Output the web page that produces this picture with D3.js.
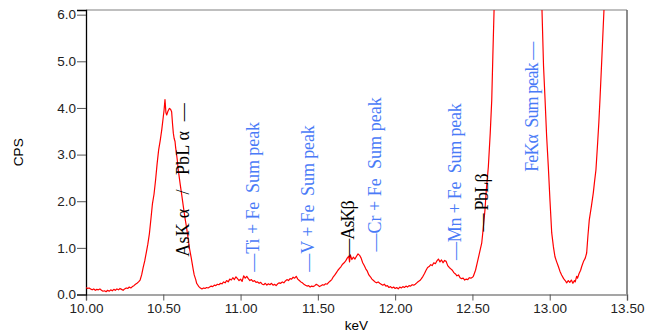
<!DOCTYPE html>
<html>
<head>
<meta charset="utf-8">
<script src="https://cdn.jsdelivr.net/npm/d3@7"></script>
<style>
  html, body { margin: 0; padding: 0; background: #fff; }
  svg { display: block; }
  .tick text { font-family: "Liberation Sans", Arial, sans-serif; font-size: 13.5px; fill: #222; }
  .peak { font-family: "Liberation Serif", "DejaVu Serif", serif; font-size: 18px; white-space: pre; }
</style>
</head>
<body>
<svg id="chart" width="649" height="332"></svg>
<script>
// spectrum, keV vs CPS
var energy = [
  10.00,10.01,10.02,10.03,10.04,10.05,10.06,10.07,10.08,10.09,
  10.10,10.11,10.12,10.13,10.14,10.15,10.16,10.17,10.18,10.19,
  10.20,10.21,10.22,10.23,10.24,10.25,10.26,10.27,10.28,10.29,
  10.30,10.31,10.32,10.33,10.34,10.35,10.36,10.37,10.38,10.39,
  10.40,10.41,10.42,10.43,10.44,10.45,10.46,10.47,10.48,10.49,
  10.50,10.505,10.511,10.517,10.522,10.53,10.539,10.547,10.554,10.56,
  10.565,10.57,10.576,10.58,10.59,10.597,10.61,10.62,10.63,10.64,
  10.65,10.662,10.67,10.68,10.694,10.70,10.71,10.716,10.72,10.73,
  10.74,10.75,10.76,10.77,10.78,10.79,10.80,10.81,10.82,10.83,
  10.84,10.85,10.86,10.87,10.88,10.89,10.90,10.91,10.92,10.93,
  10.94,10.95,10.96,10.97,10.98,10.99,11.00,11.01,11.02,11.03,
  11.04,11.05,11.06,11.07,11.08,11.09,11.10,11.11,11.12,11.13,
  11.14,11.15,11.16,11.17,11.18,11.19,11.20,11.21,11.22,11.23,
  11.24,11.25,11.26,11.27,11.28,11.29,11.30,11.31,11.32,11.33,
  11.34,11.35,11.36,11.37,11.38,11.39,11.40,11.41,11.42,11.43,
  11.44,11.45,11.46,11.47,11.48,11.49,11.50,11.51,11.52,11.53,
  11.54,11.55,11.56,11.57,11.58,11.59,11.60,11.61,11.62,11.63,
  11.64,11.65,11.66,11.67,11.68,11.69,11.70,11.705,11.71,11.72,
  11.73,11.74,11.75,11.76,11.77,11.78,11.79,11.80,11.81,11.82,
  11.83,11.84,11.85,11.86,11.87,11.88,11.89,11.90,11.91,11.92,
  11.93,11.94,11.95,11.96,11.97,11.98,11.99,12.00,12.01,12.02,
  12.03,12.04,12.05,12.06,12.07,12.08,12.09,12.10,12.11,12.12,
  12.13,12.14,12.15,12.16,12.17,12.18,12.19,12.20,12.21,12.22,
  12.23,12.24,12.25,12.26,12.27,12.28,12.29,12.30,12.31,12.32,
  12.33,12.34,12.35,12.36,12.37,12.38,12.39,12.40,12.41,12.42,
  12.43,12.44,12.45,12.46,12.47,12.48,12.49,12.50,12.506,12.52,
  12.531,12.545,12.56,12.57,12.581,12.59,12.603,12.615,12.625,12.632,
  12.640,12.648,12.66,12.70,12.80,12.90,12.94,12.950,12.960,12.970,
  12.980,12.991,13.002,13.013,13.024,13.034,13.045,13.056,13.066,13.077,
  13.09,13.10,13.11,13.12,13.13,13.14,13.15,13.16,13.165,13.174,
  13.18,13.19,13.20,13.207,13.22,13.23,13.239,13.247,13.256,13.27,
  13.282,13.29,13.299,13.310,13.318,13.325,13.335,13.343,13.351,13.36,
  13.40,13.50
];
var cps = [
  0.15,0.13,0.14,0.12,0.10,0.12,0.09,0.11,0.10,0.12,
  0.09,0.07,0.08,0.06,0.09,0.07,0.10,0.08,0.11,0.09,
  0.12,0.10,0.13,0.11,0.09,0.12,0.14,0.13,0.16,0.14,
  0.17,0.19,0.22,0.24,0.27,0.31,0.42,0.58,0.72,0.90,
  1.08,1.30,1.62,1.95,2.15,2.45,2.80,3.10,3.30,3.53,
  3.81,3.95,4.18,3.90,3.85,3.93,3.99,3.97,3.92,3.65,
  3.46,3.35,3.28,3.15,2.90,2.67,2.35,2.12,1.88,1.65,
  1.45,1.17,0.98,0.80,0.53,0.42,0.32,0.24,0.22,0.17,
  0.14,0.12,0.14,0.13,0.15,0.14,0.16,0.18,0.17,0.20,
  0.19,0.22,0.21,0.24,0.23,0.27,0.25,0.30,0.27,0.33,
  0.31,0.36,0.32,0.38,0.34,0.30,0.33,0.28,0.40,0.35,
  0.39,0.34,0.30,0.32,0.28,0.30,0.26,0.27,0.24,0.26,
  0.22,0.21,0.24,0.20,0.23,0.21,0.24,0.20,0.22,0.19,
  0.23,0.25,0.24,0.27,0.25,0.29,0.32,0.30,0.34,0.33,
  0.37,0.35,0.39,0.33,0.30,0.27,0.25,0.22,0.20,0.18,
  0.19,0.16,0.18,0.17,0.19,0.22,0.20,0.17,0.19,0.21,
  0.20,0.23,0.22,0.26,0.29,0.32,0.38,0.42,0.47,0.52,
  0.56,0.60,0.65,0.68,0.72,0.78,0.82,0.70,0.85,0.75,
  0.80,0.76,0.82,0.87,0.84,0.78,0.68,0.62,0.55,0.50,
  0.42,0.38,0.33,0.30,0.27,0.25,0.27,0.24,0.22,0.20,
  0.22,0.18,0.19,0.15,0.17,0.14,0.16,0.13,0.15,0.12,
  0.16,0.14,0.17,0.15,0.18,0.16,0.19,0.18,0.21,0.20,
  0.22,0.25,0.28,0.30,0.34,0.39,0.45,0.52,0.58,0.60,
  0.64,0.62,0.68,0.66,0.72,0.76,0.70,0.74,0.68,0.73,
  0.71,0.62,0.58,0.55,0.52,0.47,0.44,0.40,0.42,0.36,
  0.34,0.35,0.31,0.33,0.32,0.36,0.35,0.37,0.39,0.52,
  0.68,0.88,1.10,1.42,1.81,2.25,2.74,3.45,4.17,5.10,
  6.10,7.20,8.50,12.0,18.0,12.0,7.20,6.10,4.90,4.17,
  3.40,2.74,2.00,1.32,1.02,0.81,0.70,0.60,0.50,0.42,
  0.34,0.30,0.25,0.30,0.26,0.31,0.24,0.30,0.27,0.39,
  0.35,0.45,0.52,0.60,0.72,0.78,0.89,1.25,1.60,1.90,
  2.18,2.42,2.67,3.25,3.70,4.17,4.90,5.50,6.10,7.00,
  10.0,14.0
];

var xTicks = [10.00, 10.50, 11.00, 11.50, 12.00, 12.50, 13.00, 13.50];
var yTicks = [0, 1, 2, 3, 4, 5, 6];

// peak labels: text, position (keV), label runs from peakCps up to peakTop (CPS), kind
var peakLabels = ["AsK \u03b1   /   PbL \u03b1  \u2014", "\u2014Ti + Fe  Sum peak", "\u2014V + Fe  Sum peak", "\u2014AsK\u03b2",
                  "\u2014Cr + Fe  Sum peak", "\u2014Mn + Fe  Sum peak", "\u2014 PbL\u03b2", "FeK\u03b1  Sum peak \u2014"];
var peakKeV = [10.628, 11.078, 11.438, 11.697, 11.870, 12.387, 12.560, 12.883];
var peakCps = [0.81, 0.49, 0.49, 0.81, 0.92, 0.74, 1.35, 2.63];
var peakTop = [4.10, 3.70, 3.63, 2.02, 4.23, 4.10, 2.60, 5.42];
var peakKind = ["line", "sum", "sum", "line", "sum", "sum", "line", "sum"];

(function () {
  var svg = d3.select('#chart'),
      plotL = 86, plotR = 627, plotT = 10, plotB = 294.5;

  var x = d3.scaleLinear().domain([10, 13.5]).range([plotL, plotR]);
  var y = d3.scaleLinear().domain([0, 6.1]).range([plotB, plotT]);

  svg.append('clipPath').attr('id', 'plotclip')
    .append('rect')
    .attr('x', plotL).attr('y', plotT)
    .attr('width', plotR - plotL).attr('height', plotB - plotT);

  // frame: top and right in grey
  svg.append('line')
    .attr('x1', plotL).attr('x2', plotR).attr('y1', plotT).attr('y2', plotT)
    .attr('stroke', '#aaa').attr('stroke-width', 1.5);
  svg.append('line')
    .attr('x1', plotR).attr('x2', plotR).attr('y1', plotT).attr('y2', plotB)
    .attr('stroke', '#666').attr('stroke-width', 1.5);

  var xAxis = svg.append('g')
    .attr('transform', 'translate(0,' + plotB + ')')
    .call(d3.axisBottom(x).tickValues(xTicks).tickFormat(d3.format('.2f')).tickSize(6).tickPadding(3));
  xAxis.select('.domain').attr('stroke', '#888').attr('stroke-width', 1.5);
  xAxis.selectAll('.tick line').attr('stroke', '#555');

  var yAxis = svg.append('g')
    .attr('transform', 'translate(' + plotL + ',0)')
    .call(d3.axisLeft(y).tickValues(yTicks).tickFormat(d3.format('.1f')).tickSize(9).tickPadding(1));
  yAxis.select('.domain').attr('stroke', '#000').attr('stroke-width', 1.3);
  yAxis.selectAll('.tick line').attr('stroke', '#555');

  svg.append('text')
    .attr('transform', 'translate(18,' + (plotT + plotB) / 2 + ') rotate(-90)')
    .attr('text-anchor', 'middle')
    .attr('dominant-baseline', 'central')
    .style('font-family', '"Liberation Sans", Arial, sans-serif')
    .style('font-size', '13.5px')
    .text('CPS');

  svg.append('text')
    .attr('x', (plotL + plotR) / 2)
    .attr('y', 330)
    .attr('text-anchor', 'middle')
    .style('font-family', '"Liberation Sans", Arial, sans-serif')
    .style('font-size', '13.5px')
    .text('keV');

  var line = d3.line()
    .x(function (d) { return x(d[0]); })
    .y(function (d) { return y(d[1]); });

  svg.append('path')
    .datum(d3.zip(energy, cps))
    .attr('clip-path', 'url(#plotclip)')
    .attr('fill', 'none')
    .attr('stroke', '#f00')
    .attr('stroke-width', 1.2)
    .attr('stroke-linejoin', 'round')
    .attr('d', line);

  svg.selectAll('text.peak')
    .data(peakLabels)
    .enter()
    .append('text')
    .attr('class', 'peak')
    .attr('transform', function (d, i) {
      return 'translate(' + x(peakKeV[i]) + ',' + y(peakCps[i]) + ') rotate(-90)';
    })
    .attr('dominant-baseline', 'central')
    .attr('textLength', function (d, i) { return y(peakCps[i]) - y(peakTop[i]); })
    .attr('lengthAdjust', 'spacing')
    .attr('fill', function (d, i) { return peakKind[i] === 'sum' ? '#4a7bf7' : '#000'; })
    .text(function (d) { return d; });
})();
</script>
</body>
</html>
